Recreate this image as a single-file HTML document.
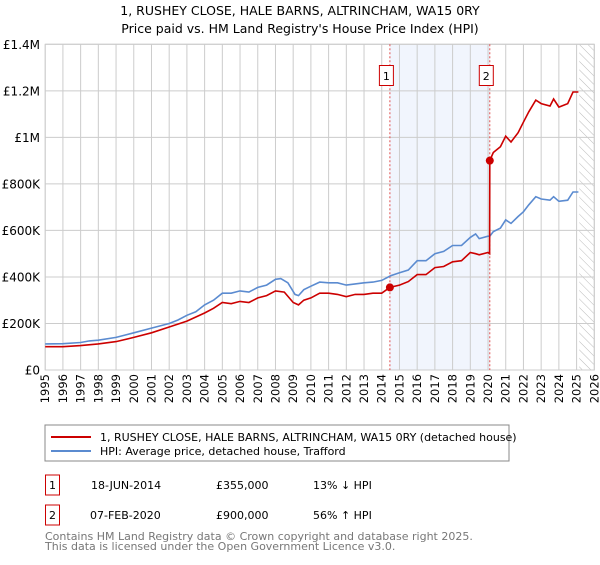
<!DOCTYPE html>
<html><head><meta charset="utf-8"><style>
body{margin:0;background:#fff;font-family:"Liberation Sans","DejaVu Sans",sans-serif;}
svg text{font-family:"DejaVu Sans","Liberation Sans",sans-serif;}
</style></head><body>
<svg id="chart" width="600" height="560">
<defs><pattern id="hatch" width="6" height="6" patternUnits="userSpaceOnUse" patternTransform="rotate(-45)"><line x1="0" y1="0" x2="0" y2="6" stroke="#bbb" stroke-width="1"/></pattern></defs>
<text x="300" y="15" text-anchor="middle" font-size="12.5">1, RUSHEY CLOSE, HALE BARNS, ALTRINCHAM, WA15 0RY</text>
<text x="300" y="33" text-anchor="middle" font-size="12.5">Price paid vs. HM Land Registry's House Price Index (HPI)</text>
<g id="grid"></g><g id="marks"></g>
<rect x="45" y="425" width="464" height="36" fill="#fff" stroke="#888"/>
<line x1="51" y1="437" x2="91" y2="437" stroke="#cc0000" stroke-width="2"/>
<text x="100" y="441" font-size="11">1, RUSHEY CLOSE, HALE BARNS, ALTRINCHAM, WA15 0RY (detached house)</text>
<line x1="51" y1="451" x2="91" y2="451" stroke="#5b8bd0" stroke-width="2"/>
<text x="100" y="455" font-size="11">HPI: Average price, detached house, Trafford</text>
<g>
<rect x="45.5" y="475" width="14" height="20" fill="#fff" stroke="#cc0000"/>
<text x="52.5" y="489" text-anchor="middle" font-size="11">1</text>
<text x="91" y="489" font-size="11">18-JUN-2014</text>
<text x="216" y="489" font-size="11">£355,000</text>
<text x="313" y="489" font-size="11">13% ↓ HPI</text></g>
<g>
<rect x="45.5" y="505" width="14" height="20" fill="#fff" stroke="#cc0000"/>
<text x="52.5" y="519" text-anchor="middle" font-size="11">2</text>
<text x="90" y="519" font-size="11">07-FEB-2020</text>
<text x="216" y="519" font-size="11">£900,000</text>
<text x="313" y="519" font-size="11">56% ↑ HPI</text></g>
<text x="45" y="540" font-size="11" fill="#777">Contains HM Land Registry data © Crown copyright and database right 2025.</text>
<text x="45" y="550" font-size="11" fill="#777">This data is licensed under the Open Government Licence v3.0.</text>
</svg>
<script>
const hpiYears=[1995,1996,1997,1997.5,1998,1999,2000,2001,2002,2002.5,2003,2003.5,2004,2004.5,2005,2005.5,2006,2006.5,2007,2007.5,2008,2008.3,2008.7,2009.1,2009.3,2009.6,2010,2010.5,2011,2011.5,2012,2012.5,2013,2013.5,2014,2014.5,2015,2015.5,2016,2016.5,2017,2017.5,2018,2018.5,2019,2019.3,2019.5,2020,2020.1,2020.3,2020.7,2021,2021.3,2021.7,2022,2022.3,2022.7,2023,2023.5,2023.7,2024,2024.5,2024.8,2025.1];
const hpiValues=[112,113,118,125,128,140,160,180,200,215,235,250,280,300,330,330,340,335,355,365,390,393,375,325,320,345,360,378,375,375,365,370,375,378,385,405,418,430,470,470,500,510,535,535,570,585,565,575,575,595,610,645,630,660,680,710,745,735,730,745,725,730,765,765];
const redYears=[1995,1996,1997,1998,1999,2000,2001,2002,2003,2004,2004.5,2005,2005.5,2006,2006.5,2007,2007.5,2008,2008.5,2009,2009.3,2009.6,2010,2010.5,2011,2011.5,2012,2012.5,2013,2013.5,2014,2014.46,2015,2015.5,2016,2016.5,2017,2017.5,2018,2018.5,2019,2019.3,2019.5,2020,2020.09,2020.1,2020.3,2020.7,2021,2021.3,2021.7,2022,2022.3,2022.7,2023,2023.5,2023.7,2024,2024.5,2024.8,2025.1];
const redValues=[100,100,105,112,122,140,160,185,210,245,265,290,285,295,290,310,320,340,335,290,280,300,310,330,330,325,315,325,325,330,330,355,365,380,410,410,440,445,465,470,505,500,495,505,500,900,935,960,1005,980,1020,1065,1110,1160,1145,1135,1165,1130,1145,1195,1195];
const saleYears=[2014.46,2020.1];
const saleValues=[355,900];
const saleLabels=["1","2"];
const yTicks=[0,200,400,600,800,1000,1200,1400];
const yTickLabels=["£0","£200K","£400K","£600K","£800K","£1M","£1.2M","£1.4M"];
const xTicks=[];for(let y=1995;y<=2026;y++)xTicks.push(y);

const X0=45.2,X1=594.3,Y0=370,Y1=44.3;
const xs=v=>X0+(v-1995)/(2026-1995)*(X1-X0);
const ys=v=>Y0-v/1400*(Y0-Y1);
const NS="http://www.w3.org/2000/svg";
function mk(tag,attrs,parent){const e=document.createElementNS(NS,tag);for(const k in attrs)e.setAttribute(k,attrs[k]);parent.appendChild(e);return e;}
const grid=document.getElementById('grid'),marks=document.getElementById('marks');
// shaded region & hatch
let r=mk('rect',{x:xs(saleYears[0]),y:Y1,width:xs(saleYears[1])-xs(saleYears[0]),height:Y0-Y1,fill:'#eef3fc',opacity:0.8},grid);


r=mk('rect',{x:xs(2025.15),y:Y1,width:X1-xs(2025.15),height:Y0-Y1,fill:'url(#hatch)'},grid);


xTicks.forEach(t=>{
  const l=mk('line',{x1:xs(t),x2:xs(t),y1:Y1,y2:Y0,stroke:'#ccc'},grid);
  
  
  const tx=mk('text',{x:0,y:0,'font-size':11.5,'text-anchor':'end',transform:`translate(${xs(t)+4},${Y0+4}) rotate(-90)`},grid);
  tx.textContent=t;
  
  
});
yTicks.forEach((t,i)=>{
  const l=mk('line',{x1:X0,x2:X1,y1:ys(t),y2:ys(t),stroke:'#ccc'},grid);
  
  
  const tx=mk('text',{x:40,y:ys(t)+4.5,'font-size':12,'text-anchor':'end'},grid);
  tx.textContent=yTickLabels[i];
  
  
});
const ax=mk('rect',{x:X0,y:Y1,width:X1-X0,height:Y0-Y1,fill:'none',stroke:'#ccc'},grid);


saleYears.forEach((s,i)=>{
  const l=mk('line',{x1:xs(s),x2:xs(s),y1:Y1,y2:Y0,stroke:'#e05050','stroke-dasharray':'2,2'},marks);
  
  
});
function path(xa,va,color,name){
  const d=xa.map((x,i)=>(i?'L':'M')+xs(x).toFixed(1)+','+ys(va[i]).toFixed(1)).join('');
  const p=mk('path',{d:d,fill:'none',stroke:color,'stroke-width':1.6},marks);
  
  
}
path(hpiYears,hpiValues,'#5b8bd0','hpi-line');
path(redYears,redValues,'#cc0000','property-price-line');
saleYears.forEach((s,i)=>{
  const c=mk('circle',{cx:xs(s),cy:ys(saleValues[i]),r:4,fill:'#cc0000'},marks);
  
  
  const bx=xs(s)-10;
  const b=mk('rect',{x:bx-0.5,y:65.5,width:14,height:20,fill:'#fff',stroke:'#cc0000'},marks);
  
  
  const t=mk('text',{x:bx+6.5,y:80,'font-size':11,'text-anchor':'middle'},marks);
  t.textContent=saleLabels[i];
  
  
});
</script>
</body></html>
